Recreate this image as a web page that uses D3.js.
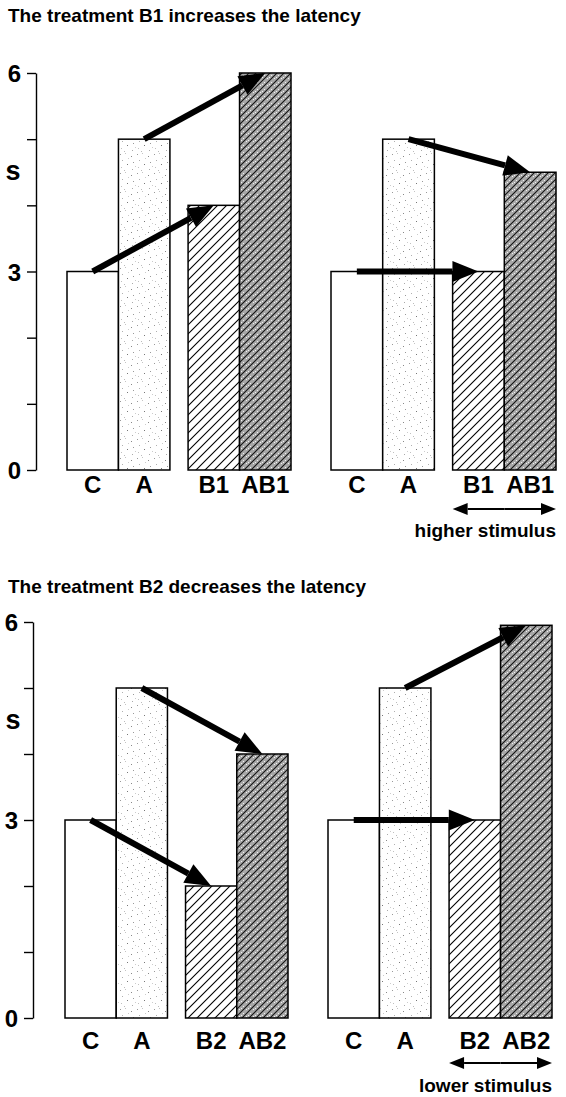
<!DOCTYPE html>
<html>
<head>
<meta charset="utf-8">
<script src="https://cdn.jsdelivr.net/npm/d3@7"></script>
<style>
  body { margin: 0; background: #fff; }
  text { font-family: "Liberation Sans", Arial, sans-serif; font-weight: bold; fill: #000; }
</style>
</head>
<body>
<div id="chart"></div>
<script>
// values (latency in s)
var catsTop = ["C", "A", "B1", "AB1"];
var catsBottom = ["C", "A", "B2", "AB2"];
var topLeft = [3, 5, 4, 6];
var topRight = [3, 5, 3, 4.5];
var bottomLeft = [3, 5, 2, 4];
var bottomRight = [3, 5, 3, 5.95];
var arrowPairs = [[0, 2], [1, 3]];   // arrow from bar i to bar j
var yTicks = [0, 1, 2, 3, 4, 5, 6];
var yTickLabels = ["0", "", "", "3", "", "", "6"];
var titleTop = "The treatment B1 increases the latency";
var titleBottom = "The treatment B2 decreases the latency";

var W = 566, H = 1097;
var svg = d3.select("#chart").append("svg")
    .attr("width", W).attr("height", H);

var defs = svg.append("defs");

// light stipple for A
var stip = defs.append("pattern").attr("id", "stipple")
    .attr("patternUnits", "userSpaceOnUse").attr("width", 17).attr("height", 19);
stip.append("rect").attr("width", 17).attr("height", 19).attr("fill", "#fff");
[[1,2,"#999"],[6,1,"#c4c4c4"],[12,4,"#888"],[3,8,"#b0b0b0"],[14,10,"#999"],[8,12,"#777"],
 [2,15,"#c0c0c0"],[9,6,"#ccc"],[13,17,"#aaa"],[5,18,"#bbb"],[16,14,"#ccc"]]
  .forEach(function(d) {
    stip.append("rect").attr("x", d[0]).attr("y", d[1]).attr("width", 1).attr("height", 1).attr("fill", d[2]);
  });

// diagonal hatching for B
var hatch = defs.append("pattern").attr("id", "hatch")
    .attr("patternUnits", "userSpaceOnUse").attr("width", 9).attr("height", 9);
hatch.append("rect").attr("width", 9).attr("height", 9).attr("fill", "#fff");
hatch.append("path").attr("d", "M0,9 L9,0 M-2,2 L2,-2 M7,11 L11,7")
    .attr("stroke", "#000").attr("stroke-width", 1.1);

// dark dotted + hatch for AB
var dark = defs.append("pattern").attr("id", "dark")
    .attr("patternUnits", "userSpaceOnUse").attr("width", 7).attr("height", 7);
dark.append("rect").attr("width", 7).attr("height", 7).attr("fill", "#a8a8a8");
[[1,1],[4,2],[2,4],[5,5],[0,6],[3,0]].forEach(function(d) {
  dark.append("rect").attr("x", d[0]).attr("y", d[1]).attr("width", 1).attr("height", 1).attr("fill", "#f0f0f0");
});
dark.append("path").attr("d", "M0,7 L7,0 M-2,2 L2,-2 M5,9 L9,5")
    .attr("stroke", "#111").attr("stroke-width", 1.1);

var fills = ["#fff", "url(#stipple)", "url(#hatch)", "url(#dark)"];

function drawAxis(yScale, axisX) {
  var ax = svg.append("g")
    .attr("transform", "translate(" + axisX + ",0)")
    .call(d3.axisLeft(yScale).tickValues(yTicks)
      .tickFormat(function(d, i) { return yTickLabels[i]; })
      .tickSize(9).tickSizeOuter(0).tickPadding(6));
  ax.select(".domain").attr("stroke-width", 1.4);
  ax.selectAll(".tick line").attr("stroke-width", 1.4);
  ax.selectAll(".tick text")
    .attr("font-size", 24).attr("font-family", null).attr("dy", "0.36em");
  svg.append("text")
    .attr("x", 13).attr("y", yScale(4.5))
    .attr("dy", "0.3em")
    .attr("text-anchor", "middle")
    .attr("font-size", 27)
    .text("s");
}

function arrow(g, x1, y1, x2, y2, w, headLen, headW) {
  var ang = Math.atan2(y2 - y1, x2 - x1);
  var bx = x2 - headLen * Math.cos(ang), by = y2 - headLen * Math.sin(ang);
  g.append("line").attr("x1", x1).attr("y1", y1).attr("x2", bx).attr("y2", by)
    .attr("stroke", "#000").attr("stroke-width", w);
  var px = -Math.sin(ang) * headW, py = Math.cos(ang) * headW;
  g.append("path")
    .attr("d", "M" + x2 + "," + y2 + "L" + (bx + px) + "," + (by + py) + "L" + (bx - px) + "," + (by - py) + "Z")
    .attr("fill", "#000");
}

function drawGroup(x0, width, yScale, cats, vals, labelGap, note) {
  var g = svg.append("g");
  var pairs = d3.scaleBand().domain([0, 1]).range([x0, x0 + width]).paddingInner(0.15);
  var inner = d3.scaleBand().domain([0, 1]).range([0, pairs.bandwidth()]);
  var bx = function(i) { return pairs(Math.floor(i / 2)) + inner(i % 2); };
  var bw = inner.bandwidth();
  var base = yScale(0);

  g.selectAll("rect.bar").data(vals).join("rect")
    .attr("class", "bar")
    .attr("x", function(d, i) { return bx(i); })
    .attr("y", function(d) { return yScale(d); })
    .attr("width", bw)
    .attr("height", function(d) { return base - yScale(d); })
    .attr("fill", function(d, i) { return fills[i]; })
    .attr("stroke", "#000").attr("stroke-width", 1.5);

  g.selectAll("text.cat").data(cats).join("text")
    .attr("class", "cat")
    .attr("x", function(d, i) { return bx(i) + bw / 2; })
    .attr("y", base + labelGap)
    .attr("text-anchor", "middle")
    .attr("font-size", 24)
    .text(function(d) { return d; });

  arrowPairs.forEach(function(p) {
    arrow(g, bx(p[0]) + bw / 2, yScale(vals[p[0]]),
             bx(p[1]) + bw / 2, yScale(vals[p[1]]), 6, 26, 10.5);
  });

  if (note) {
    var l = bx(2), r = bx(3) + bw;
    var ya = base + note.arrowGap;
    var ah = g.append("g");
    arrow(ah, (l + r) / 2, ya, r, ya, 2, 15, 6);
    arrow(ah, (l + r) / 2, ya, l, ya, 2, 15, 6);
    g.append("text")
      .attr("x", r).attr("y", base + note.textGap)
      .attr("text-anchor", "end")
      .attr("font-size", 19)
      .text(note.text);
  }
}

// top panel
var yTop = d3.scaleLinear().domain([0, 6]).range([470, 73]);
svg.append("text").attr("x", 8).attr("y", 22).attr("font-size", 19).text(titleTop);
drawAxis(yTop, 36);
drawGroup(67, 224, yTop, catsTop, topLeft, 23);
drawGroup(331, 225, yTop, catsTop, topRight, 23,
  { text: "higher stimulus", arrowGap: 39, textGap: 67 });

// bottom panel
var yBot = d3.scaleLinear().domain([0, 6]).range([1018, 622]);
svg.append("text").attr("x", 8).attr("y", 593).attr("font-size", 19).text(titleBottom);
drawAxis(yBot, 33);
drawGroup(65, 223, yBot, catsBottom, bottomLeft, 31);
drawGroup(328, 224, yBot, catsBottom, bottomRight, 31,
  { text: "lower stimulus", arrowGap: 45, textGap: 74 });
</script>
</body>
</html>
